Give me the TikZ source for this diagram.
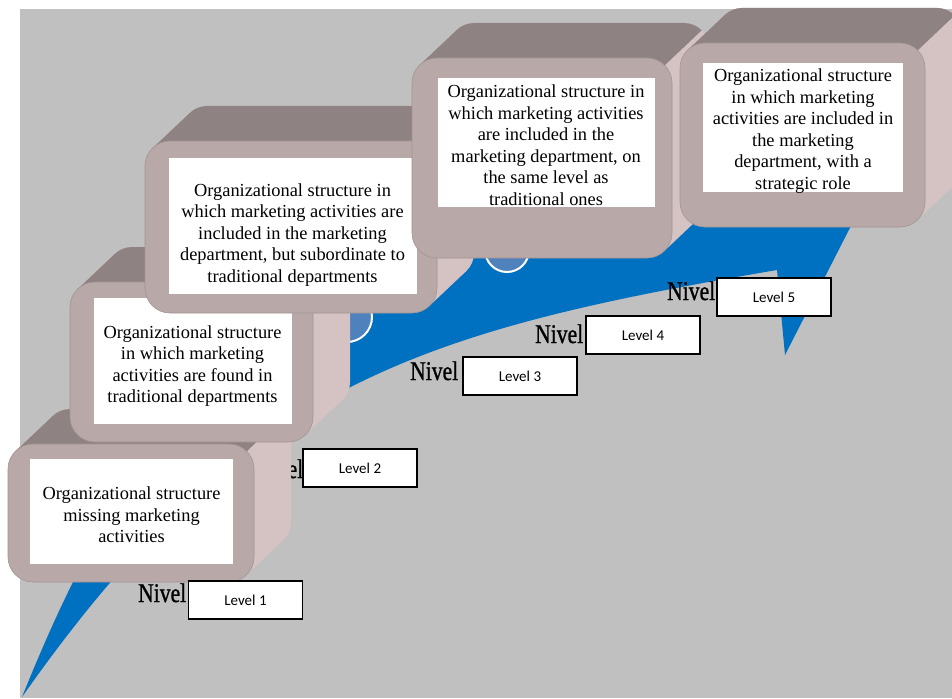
\documentclass[tikz,border=0pt]{standalone}
\usepackage{fontspec}
\setmainfont{Liberation Serif}
\newfontfamily\calib{Carlito}
\newfontface\nivelfont{Liberation Serif}[FakeBold=1.2]
\definecolor{bgc}{HTML}{C0C0C0}
\definecolor{frontc}{HTML}{B9A8A8}
\definecolor{topc}{HTML}{8F8282}
\definecolor{sidec}{HTML}{D5C3C3}
\definecolor{arrowc}{HTML}{0070C0}
\definecolor{circc}{HTML}{4F81BD}
\newcommand{\extrudebox}[4]{%
  \pgfmathsetmacro{\ax}{#1+7.6}\pgfmathsetmacro{\ay}{#2+7.1}%
  \pgfmathsetmacro{\bx}{#3-7.6}\pgfmathsetmacro{\by}{#4-7.1}%
  \pgfmathsetmacro{\px}{#3-7.3}\pgfmathsetmacro{\py}{#2+7.3}%
  \fill[sidec,rounded corners=25pt] (#1+37,#2-35) rectangle (#3+37,#4-35);
  \fill[sidec] (\ax,\ay) -- (\ax+37,\ay-35) -- (\bx+37,\by-35) -- (\bx,\by) -- cycle;
  \begin{scope}
    \clip (\px-185,\py+175) -- (\px+185,\py-175) -- (\px-515,\py-895) -- (\px-885,\py-545) -- cycle;
    \fill[topc,rounded corners=25pt] (#1+37,#2-35) rectangle (#3+37,#4-35);
    \fill[topc] (\ax,\ay) -- (\ax+37,\ay-35) -- (\bx+37,\by-35) -- (\bx,\by) -- cycle;
  \end{scope}
  \fill[frontc,draw=frontc!88!black,line width=0.6pt,rounded corners=25pt] (#1,#2) rectangle (#3,#4);
}
\begin{document}
\begin{tikzpicture}[x=1pt,y=-1pt,
  txt/.style={font=\fontsize{18.4}{21.5}\selectfont, align=center, inner sep=0pt},
  lvl/.style={draw=black, line width=1.8pt, fill=white, minimum width=114pt, minimum height=38pt, inner sep=0pt, font=\calib\fontsize{15}{18}\selectfont},
  nivel/.style={font=\nivelfont\fontsize{27}{30}\selectfont, anchor=base west, inner sep=0pt},
  circ/.style={draw=white, line width=2pt, fill=circc}]
\useasboundingbox (0,0) rectangle (952,698);
\fill[bgc] (20,9) rectangle (952,698);
% blue curved arrow
\fill[arrowc] (22,697) .. controls (240.5,386) and (412,332) .. (777,270) -- (785,355) -- (879,171) -- (756,8) -- (764.5,110) .. controls (250,200) and (110,480) .. (22,697) -- cycle;
\draw[circ] (347,317) circle[radius=25pt];
\draw[circ] (507,250) circle[radius=22pt];
% Nivel labels
\node[nivel] (nv1) at (138,602) {\scalebox{0.8}[1]{Nivel 1}};
\node[nivel] (nv2) at (255,478) {\scalebox{0.8}[1]{Nivel 2}};
\node[nivel] (nv3) at (410,380) {\scalebox{0.8}[1]{Nivel 3}};
\node[nivel] (nv4) at (535,343) {\scalebox{0.8}[1]{Nivel 4}};
\node[nivel] (nv5) at (667,300) {\scalebox{0.8}[1]{Nivel 5}};
% box 1
\extrudebox{8}{444}{254}{582}
\fill[white] (30,459) rectangle (233,564);
\node[txt] (t1) at (131.5,515) {Organizational structure\\missing marketing\\activities};
% box 2
\extrudebox{70}{282}{313}{442}
\fill[white] (94,298) rectangle (292,424);
\node[txt] (t2) at (192.5,366) {Organizational structure\\in which marketing\\activities are found in\\traditional departments};
% box 3
\extrudebox{145}{141}{437}{313}
\fill[white] (169,158) rectangle (417,294);
\node[txt] (t3) at (292.5,235) {Organizational structure in\\which marketing activities are\\included in the marketing\\department, but subordinate to\\traditional departments};
% box 4
\extrudebox{412}{58}{672}{258}
\fill[white] (438,78) rectangle (655,207);
\node[txt] (t4) at (546,145) {Organizational structure in\\which marketing activities\\are included in the\\marketing department, on\\the same level as\\traditional ones};
% box 5
\extrudebox{680}{43}{925}{227}
\fill[white] (703,63) rectangle (903,192);
\node[txt] (t5) at (803,131) {Organizational structure\\in which marketing\\activities are included in\\the marketing\\department, with a\\strategic role};
% level boxes
\node[lvl] (lv1) at (245.5,600) {Level 1};
\node[lvl] (lv2) at (360,468) {Level 2};
\node[lvl] (lv3) at (520,376) {Level 3};
\node[lvl] (lv4) at (643,335) {Level 4};
\node[lvl] (lv5) at (774,297) {Level 5};
\end{tikzpicture}
\end{document}
